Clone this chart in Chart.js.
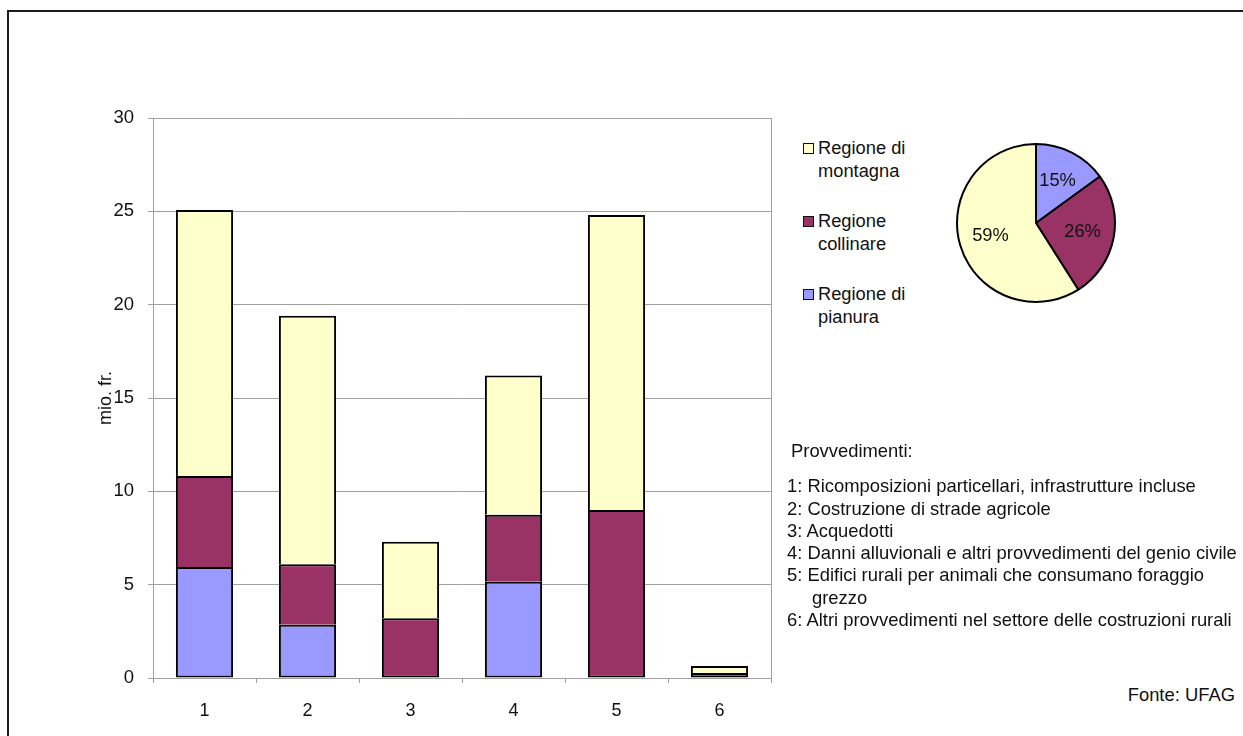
<!DOCTYPE html>
<html lang="it">
<head>
<meta charset="utf-8">
<title>Provvedimenti per regione</title>
<script src="https://cdn.jsdelivr.net/npm/chart.js@4/dist/chart.umd.min.js"></script>
<style>
  html, body { margin: 0; padding: 0; background: #fff; }
  body { width: 1243px; height: 736px; position: relative; overflow: hidden;
         font-family: "Liberation Sans", Arial, sans-serif; color: #111; }
  #frame { position: absolute; left: 7px; top: 10px; width: 1300px; height: 800px;
           border: 2px solid #1c1c1c; box-sizing: border-box; }
  #barWrap { position: absolute; left: 0; top: 0; width: 790px; height: 736px; }
  #pieWrap { position: absolute; left: 951px; top: 138px; width: 170px; height: 170px; }
  .legend { position: absolute; left: 803px; font-size: 18.3px; line-height: 22.5px; }
  .legend .sw { position: absolute; left: 0; top: 6px; width: 9px; height: 9px; border: 1px solid #111; }
  .legend .tx { position: absolute; left: 15px; top: 0; white-space: nowrap; }
  #notes { position: absolute; left: 787px; top: 440px; font-size: 18.4px; line-height: 22.3px; white-space: nowrap; }
  #notes .head { margin-left: 4px; margin-bottom: 13px; }
  #notes .ind { padding-left: 25px; }
  #fonte { position: absolute; right: 8px; top: 684px; font-size: 18.4px; }
</style>
</head>
<body>
<div id="frame"></div>
<div id="barWrap"><canvas id="bar"></canvas></div>
<div id="pieWrap"><canvas id="pie"></canvas></div>
<div id="legend"></div>
<div id="notes"></div>
<div id="fonte">Fonte: UFAG</div>
<script>
// Provvedimenti 1..6, importi in milioni di franchi per regione
const categories = ['1', '2', '3', '4', '5', '6'];
const pianura    = [5.95, 2.85, null, 5.15, null, null];
const collinare  = [4.87, 3.25, 3.2, 3.6, 9.0, 0.27];
const montagna   = [14.25, 13.3, 4.1, 7.45, 15.8, 0.37];

// Quote complessive per regione (%)
const pieLabels = ['Regione di pianura', 'Regione collinare', 'Regione di montagna'];
const pieShares = [15, 26, 59];

const yTicks = [0, 5, 10, 15, 20, 25, 30];

const legendItems = [
  ['Regione di', 'montagna'],
  ['Regione', 'collinare'],
  ['Regione di', 'pianura']
];
const measures = [
  '1: Ricomposizioni particellari, infrastrutture incluse',
  '2: Costruzione di strade agricole',
  '3: Acquedotti',
  '4: Danni alluvionali e altri provvedimenti del genio civile',
  '5: Edifici rurali per animali che consumano foraggio',
  '   grezzo',
  '6: Altri provvedimenti nel settore delle costruzioni rurali'
];

const COL_PIANURA = '#9999ff';
const COL_COLLINARE = '#993366';
const COL_MONTAGNA = '#ffffcc';
const FONT = '"Liberation Sans", Arial, sans-serif';

// Legend
const legendColors = [COL_MONTAGNA, COL_COLLINARE, COL_PIANURA];
const legendTops = [137, 210, 283];
const legendEl = document.getElementById('legend');
legendItems.forEach((lines, i) => {
  const d = document.createElement('div');
  d.className = 'legend';
  d.style.top = legendTops[i] + 'px';
  d.innerHTML = '<div class="sw" style="background:' + legendColors[i] + '"></div>' +
                '<div class="tx">' + lines.join('<br>') + '</div>';
  legendEl.appendChild(d);
});

// List of measures
const notesEl = document.getElementById('notes');
const head = document.createElement('div');
head.className = 'head';
head.textContent = 'Provvedimenti:';
notesEl.appendChild(head);
measures.forEach(t => {
  const d = document.createElement('div');
  if (t.startsWith('   ')) { d.className = 'ind'; d.textContent = t.trim(); }
  else d.textContent = t;
  notesEl.appendChild(d);
});

// Right border of the plot area
const frameRight = {
  id: 'frameRight',
  afterDraw(chart) {
    const a = chart.chartArea, ctx = chart.ctx;
    ctx.save();
    ctx.strokeStyle = '#a0a0a0';
    ctx.lineWidth = 1;
    ctx.beginPath();
    ctx.moveTo(Math.round(a.right) + 0.5, a.top);
    ctx.lineTo(Math.round(a.right) + 0.5, a.bottom);
    ctx.stroke();
    ctx.restore();
  }
};

const stackSeries = [pianura, collinare, montagna];
// Outline each stacked segment once: the lowest segment keeps its bottom edge,
// the others rely on the top edge of the segment underneath.
function segmentBorder(ctx) {
  const i = ctx.dataIndex;
  let lowest = 0;
  while (lowest < stackSeries.length && !stackSeries[lowest][i]) lowest++;
  return { top: 2, left: 2, right: 2, bottom: ctx.datasetIndex === lowest ? 2 : 0 };
}

const barDs = (label, data, color) => ({
  label, data,
  backgroundColor: color,
  borderColor: '#000',
  borderWidth: segmentBorder,
  borderSkipped: false,
  barPercentage: 0.555,
  categoryPercentage: 1
});

new Chart(document.getElementById('bar'), {
  type: 'bar',
  data: {
    labels: categories,
    datasets: [
      barDs('Regione di pianura', pianura, COL_PIANURA),
      barDs('Regione collinare', collinare, COL_COLLINARE),
      barDs('Regione di montagna', montagna, COL_MONTAGNA)
    ]
  },
  options: {
    responsive: true,
    maintainAspectRatio: false,
    animation: false,
    events: [],
    layout: { padding: { left: 95, right: 19, top: 118, bottom: 8 } },
    plugins: { legend: { display: false }, tooltip: { enabled: false } },
    scales: {
      x: {
        stacked: true,
        offset: true,
        afterFit(s) { s.height = 50; },
        grid: { offset: true, drawOnChartArea: false, drawTicks: true, tickLength: 5, color: '#a0a0a0' },
        border: { color: '#a0a0a0' },
        ticks: { font: { family: FONT, size: 18 }, color: '#111', padding: 17 }
      },
      y: {
        stacked: true,
        min: 0, max: 30,
        afterFit(s) { s.width = 58; },
        afterBuildTicks(s) { s.ticks = yTicks.map(v => ({ value: v })); },
        grid: { color: '#a0a0a0', tickLength: 5 },
        border: { color: '#a0a0a0' },
        ticks: { font: { family: FONT, size: 18.5 }, color: '#111', padding: 14 },
        title: { display: true, text: 'mio. fr.', font: { family: FONT, size: 18 }, color: '#111', padding: 0 }
      }
    }
  },
  plugins: [frameRight]
});

// Percentage labels inside the pie slices
const pieText = {
  id: 'pieText',
  afterDatasetsDraw(chart) {
    const ctx = chart.ctx;
    const meta = chart.getDatasetMeta(0);
    ctx.save();
    ctx.font = '18.3px ' + FONT;
    ctx.fillStyle = '#111';
    ctx.textAlign = 'center';
    ctx.textBaseline = 'middle';
    meta.data.forEach((arc, i) => {
      const mid = (arc.startAngle + arc.endAngle) / 2;
      const r = arc.outerRadius * 0.6;
      ctx.fillText(pieShares[i] + '%', arc.x + Math.cos(mid) * r, arc.y + Math.sin(mid) * r);
    });
    ctx.restore();
  }
};

new Chart(document.getElementById('pie'), {
  type: 'pie',
  data: {
    labels: pieLabels,
    datasets: [{
      data: pieShares,
      backgroundColor: [COL_PIANURA, COL_COLLINARE, COL_MONTAGNA],
      borderColor: '#000',
      borderWidth: 2,
      hoverOffset: 0,
      offset: 0,
      radius: 79
    }]
  },
  options: {
    responsive: true,
    maintainAspectRatio: false,
    animation: false,
    events: [],
    plugins: { legend: { display: false }, tooltip: { enabled: false } }
  },
  plugins: [pieText]
});
</script>
</body>
</html>
